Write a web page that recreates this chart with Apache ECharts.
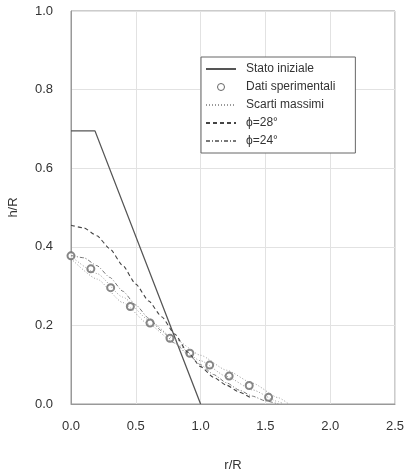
<!DOCTYPE html>
<html>
<head>
<meta charset="utf-8">
<script src="https://cdn.jsdelivr.net/npm/echarts@6/dist/echarts.min.js"></script>
<style>
  html, body { margin: 0; padding: 0; background: #fff; }
  #chart { width: 405px; height: 472px; }
</style>
</head>
<body>
<div id="chart"></div>
<script>
// profile data (r/R, h/R)
var statoIniziale = [[0, 0.695], [0.185, 0.695], [1.0, 0]];

var datiR = [0, 0.153, 0.306, 0.458, 0.61, 0.764, 0.917, 1.07, 1.22, 1.375, 1.525];
var datiH = [0.377, 0.344, 0.296, 0.248, 0.206, 0.167, 0.129, 0.099, 0.071, 0.047, 0.017];

var scartiR = [0, 0.2, 0.4, 0.6, 0.8, 1.0, 1.2, 1.4, 1.6, 1.68];
var scartiSup = [0.376, 0.332, 0.272, 0.214, 0.165, 0.124, 0.086, 0.053, 0.016, 0];
var scartiInfR = [0, 0.2, 0.4, 0.6, 0.8, 1.0, 1.2, 1.4, 1.6, 1.64];
var scartiInf = [0.37, 0.318, 0.258, 0.203, 0.155, 0.11, 0.07, 0.036, 0.006, 0];

var phiR = [0, 0.1, 0.2, 0.3, 0.4, 0.5, 0.6, 0.7, 0.8, 0.9, 1.0, 1.1, 1.2, 1.3, 1.4, 1.5, 1.6];
var phi28 = [0.455, 0.448, 0.428, 0.395, 0.352, 0.305, 0.262, 0.222, 0.178, 0.132, 0.095, 0.068, 0.048, 0.03, 0.013];
var phi24 = [0.378, 0.372, 0.352, 0.322, 0.287, 0.252, 0.218, 0.186, 0.155, 0.127, 0.1, 0.075, 0.054, 0.035, 0.02, 0.008, 0];

function zip(xs, ys) {
  var out = [];
  for (var i = 0; i < ys.length; i++) out.push([xs[i], ys[i]]);
  return out;
}

var chart = echarts.init(document.getElementById('chart'));

var labelFont = { color: '#333', fontSize: 13, fontFamily: 'Liberation Sans' };

var option = {
  animation: false,
  // Setup grid
  grid: {
    left: 71,
    right: 10,
    top: 11,
    bottom: 68,
    outerBoundsMode: 'none',
    show: true,
    borderColor: '#999',
    borderWidth: 1
  },
  // Add legend
  legend: {
    orient: 'vertical',
    left: 201,
    top: 57,
    padding: [6, 20, 6, 4],
    itemGap: 6,
    itemWidth: 30,
    itemHeight: 7,
    backgroundColor: '#fff',
    borderColor: '#666',
    borderWidth: 1,
    borderRadius: 0,
    itemStyle: { opacity: 0 },
    textStyle: { color: '#333', fontSize: 12, fontFamily: 'Liberation Sans', padding: [0, 0, 0, 5] },
    data: [
      'Stato iniziale',
      {
        name: 'Dati sperimentali',
        icon: 'circle',
        itemStyle: { opacity: 1, color: '#fff', borderColor: '#666', borderWidth: 1 }
      },
      'Scarti massimi',
      'ϕ=28°',
      'ϕ=24°'
    ]
  },
  // Horizontal axis
  xAxis: {
    type: 'value',
    min: 0,
    max: 2.5,
    interval: 0.5,
    name: 'r/R',
    nameLocation: 'middle',
    nameGap: 55,
    nameTextStyle: labelFont,
    axisLine: { show: true, lineStyle: { color: '#999' } },
    axisTick: { show: false },
    axisLabel: {
      margin: 16,
      color: '#333', fontSize: 13, fontFamily: 'Liberation Sans',
      formatter: function (v) { return v.toFixed(1); }
    },
    splitLine: { show: true, lineStyle: { color: '#e2e2e2' } }
  },
  // Vertical axis
  yAxis: {
    type: 'value',
    min: 0,
    max: 1,
    interval: 0.2,
    name: 'h/R',
    nameLocation: 'middle',
    nameGap: 51,
    nameTextStyle: labelFont,
    axisLine: { show: true, lineStyle: { color: '#999' } },
    axisTick: { show: false },
    axisLabel: {
      margin: 18,
      color: '#333', fontSize: 13, fontFamily: 'Liberation Sans',
      formatter: function (v) { return v.toFixed(1); }
    },
    splitLine: { show: true, lineStyle: { color: '#e2e2e2' } }
  },
  // Add series
  series: [
    {
      name: 'Stato iniziale',
      type: 'line',
      symbol: 'none',
      lineStyle: { color: '#555', width: 1.3 },
      itemStyle: { color: '#555' },
      data: statoIniziale
    },
    {
      name: 'Scarti massimi',
      type: 'line',
      symbol: 'none',
      smooth: 0.2,
      smoothMonotone: 'x',
      lineStyle: { color: '#999', width: 1, type: [1, 2] },
      itemStyle: { color: '#999' },
      data: zip(scartiR, scartiSup)
    },
    {
      name: 'Scarti massimi',
      type: 'line',
      symbol: 'none',
      smooth: 0.2,
      smoothMonotone: 'x',
      lineStyle: { color: '#999', width: 1, type: [1, 2] },
      itemStyle: { color: '#999' },
      data: zip(scartiInfR, scartiInf)
    },
    {
      name: 'ϕ=28°',
      type: 'line',
      symbol: 'none',
      smooth: 0.2,
      smoothMonotone: 'x',
      lineStyle: { color: '#444', width: 1.1, type: [4, 3] },
      itemStyle: { color: '#444' },
      data: zip(phiR, phi28)
    },
    {
      name: 'ϕ=24°',
      type: 'line',
      symbol: 'none',
      smooth: 0.2,
      smoothMonotone: 'x',
      lineStyle: { color: '#777', width: 1, type: [4, 2, 1, 2] },
      itemStyle: { color: '#777' },
      data: zip(phiR, phi24)
    },
    {
      name: 'Dati sperimentali',
      type: 'scatter',
      symbol: 'emptyCircle',
      symbolSize: 7,
      itemStyle: { color: '#666', borderWidth: 1 },
      data: zip(datiR, datiH)
    }
  ]
};

chart.setOption(option);
</script>
</body>
</html>
